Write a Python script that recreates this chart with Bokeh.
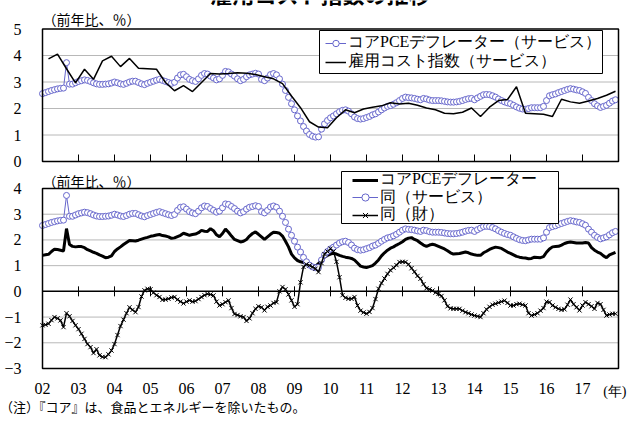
import numpy as np
from bokeh.plotting import figure
from bokeh.layouts import column
from bokeh.models import Range1d, FixedTicker, Legend, LegendItem, Label, BoxAnnotation, Div
from bokeh.core.properties import value
from bokeh.embed import file_html
from bokeh.resources import INLINE

# ---------------- data (monthly from Jan 2002, % y/y) ----------------
pce_services = [
    2.56, 2.60, 2.64, 2.68, 2.71, 2.74, 2.76, 2.77, 3.73, 2.92, 2.92, 2.97,
    3.02, 3.05, 3.08, 3.06, 3.02, 2.97, 2.93, 2.91, 2.91, 2.92, 2.93, 2.96,
    3.00, 2.97, 2.93, 2.91, 2.95, 3.00, 3.03, 3.03, 2.98, 2.93, 2.90, 2.95,
    2.99, 3.03, 3.07, 3.10, 3.06, 3.02, 2.98, 2.95, 2.99, 3.15, 3.27, 3.29,
    3.20, 3.10, 3.05, 3.02, 3.12, 3.25, 3.32, 3.30, 3.22, 3.15, 3.08, 3.12,
    3.25, 3.40, 3.38, 3.30, 3.22, 3.12, 3.05, 3.10, 3.20, 3.27, 3.30, 3.33,
    3.30, 3.10, 3.05, 3.15, 3.28, 3.32, 3.27, 3.12, 2.92, 2.68, 2.42, 2.18,
    1.95, 1.72, 1.53, 1.32, 1.15, 1.02, 0.95, 0.92, 0.93, 1.22, 1.42, 1.55,
    1.65, 1.72, 1.80, 1.88, 1.93, 1.95, 1.90, 1.80, 1.68, 1.62, 1.60, 1.62,
    1.66, 1.70, 1.76, 1.80, 1.87, 1.95, 2.02, 2.08, 2.11, 2.16, 2.22, 2.30,
    2.38, 2.43, 2.41, 2.40, 2.38, 2.35, 2.33, 2.38, 2.36, 2.32, 2.30, 2.30,
    2.30, 2.29, 2.27, 2.25, 2.24, 2.24, 2.25, 2.27, 2.30, 2.34, 2.37, 2.38,
    2.33, 2.40, 2.46, 2.52, 2.53, 2.52, 2.48, 2.43, 2.36, 2.30, 2.25, 2.21,
    2.18, 2.12, 2.06, 2.01, 1.98, 1.97, 2.00, 2.03, 2.03, 2.03, 2.03, 2.08,
    2.30, 2.48, 2.52, 2.55, 2.60, 2.64, 2.68, 2.72, 2.75, 2.73, 2.70, 2.68,
    2.63, 2.57, 2.42, 2.30, 2.18, 2.10, 2.04, 2.08, 2.12, 2.20, 2.28, 2.33,
]

pce_core = [
    1.40, 1.42, 1.44, 1.55, 1.64, 1.63, 1.60, 1.57, 2.44, 1.82, 1.75, 1.73,
    1.74, 1.74, 1.70, 1.62, 1.57, 1.52, 1.48, 1.42, 1.37, 1.31, 1.33, 1.38,
    1.55, 1.65, 1.73, 1.82, 1.90, 1.98, 1.97, 1.96, 1.99, 2.03, 2.07, 2.10,
    2.14, 2.16, 2.19, 2.21, 2.17, 2.15, 2.12, 2.06, 2.08, 2.13, 2.18, 2.26,
    2.22, 2.18, 2.21, 2.23, 2.28, 2.37, 2.34, 2.33, 2.44, 2.36, 2.20, 2.12,
    2.25, 2.42, 2.30, 2.15, 2.02, 1.97, 1.92, 1.95, 2.02, 2.15, 2.25, 2.31,
    2.22, 2.12, 2.02, 2.12, 2.22, 2.30, 2.29, 2.26, 2.15, 1.95, 1.73, 1.45,
    1.30, 1.20, 1.15, 1.12, 1.08, 1.02, 0.98, 0.98, 1.08, 1.22, 1.33, 1.40,
    1.45, 1.48, 1.45, 1.40, 1.36, 1.33, 1.31, 1.28, 1.22, 1.10, 0.98, 0.95,
    0.93, 0.96, 1.00, 1.10, 1.22, 1.38, 1.50, 1.60, 1.68, 1.73, 1.80, 1.86,
    1.93, 2.02, 2.07, 2.09, 2.02, 1.97, 1.88, 1.80, 1.75, 1.80, 1.83, 1.80,
    1.75, 1.70, 1.65, 1.58, 1.50, 1.45, 1.46, 1.47, 1.50, 1.53, 1.50, 1.45,
    1.42, 1.40, 1.40, 1.50, 1.56, 1.63, 1.68, 1.72, 1.70, 1.67, 1.60, 1.53,
    1.48, 1.42, 1.36, 1.33, 1.31, 1.30, 1.27, 1.28, 1.33, 1.32, 1.31, 1.35,
    1.52, 1.65, 1.73, 1.74, 1.75, 1.80, 1.86, 1.90, 1.92, 1.90, 1.88, 1.88,
    1.88, 1.90, 1.88, 1.70, 1.60, 1.53, 1.48, 1.38, 1.31, 1.42, 1.47, 1.52,
]

pce_goods = [
    -1.32, -1.30, -1.26, -1.12, -1.00, -1.05, -1.13, -1.39, -0.85, -0.97, -1.15, -1.32,
    -1.47, -1.65, -1.85, -2.05, -2.17, -2.40, -2.25, -2.49, -2.55, -2.56, -2.45, -2.30,
    -2.05, -1.70, -1.35, -1.10, -0.85, -0.62, -0.72, -0.81, -0.61, -0.20, 0.04, 0.10,
    0.08, -0.05, -0.15, -0.22, -0.33, -0.32, -0.29, -0.24, -0.22, -0.32, -0.40, -0.47,
    -0.40, -0.35, -0.40, -0.38, -0.30, -0.22, -0.15, -0.10, -0.12, -0.16, -0.40, -0.55,
    -0.50, -0.42, -0.35, -0.65, -0.88, -0.92, -0.97, -1.00, -1.15, -1.05, -0.85, -0.68,
    -0.58, -0.62, -0.74, -0.60, -0.55, -0.45, -0.42, 0.00, 0.17, 0.08, -0.12, -0.35,
    -0.60, -0.50, 0.35, 0.95, 1.05, 1.01, 0.95, 0.88, 0.75, 1.10, 1.45, 1.55,
    1.66, 1.55, 1.15, 0.55, -0.15, -0.25, -0.29, -0.29, -0.22, -0.55, -0.75, -0.82,
    -0.87, -0.80, -0.65, -0.30, 0.10, 0.32, 0.50, 0.68, 0.82, 0.92, 1.02, 1.14,
    1.15, 1.14, 1.05, 0.90, 0.76, 0.60, 0.49, 0.28, 0.12, 0.08, 0.03, -0.05,
    -0.10, -0.18, -0.35, -0.58, -0.66, -0.68, -0.68, -0.68, -0.75, -0.81, -0.85, -0.90,
    -0.94, -0.97, -1.00, -0.85, -0.70, -0.60, -0.52, -0.48, -0.44, -0.40, -0.36, -0.45,
    -0.55, -0.55, -0.50, -0.48, -0.52, -0.55, -0.85, -0.94, -0.90, -0.85, -0.75, -0.65,
    -0.40, -0.42, -0.55, -0.62, -0.68, -0.72, -0.70, -0.52, -0.32, -0.50, -0.62, -0.74,
    -0.55, -0.42, -0.50, -0.58, -0.68, -0.45, -0.50, -0.72, -0.94, -0.90, -0.87, -0.87,
]

# employment cost index (services), quarterly, quarter-end months from Mar 2002
eci_services = [
    3.87, 4.05, 3.50, 2.97,
    3.48, 3.10, 3.80, 3.97,
    3.58, 3.89, 3.52, 3.50,
    3.48, 2.98, 2.67, 2.86,
    2.64, 2.98, 3.32, 3.30,
    3.32, 3.35, 3.33, 3.28,
    3.20, 3.12, 2.94, 2.47,
    2.03, 1.50, 1.30, 1.27,
    1.65, 1.95, 1.84, 1.98,
    2.05, 2.10, 2.22, 2.17,
    2.20, 2.12, 2.02, 1.95,
    1.82, 1.80, 1.86, 2.02,
    1.70, 2.05, 2.30, 2.34,
    2.82, 1.82, 1.80, 1.78,
    1.70, 2.35, 2.25, 2.20,
    2.28, 2.38, 2.50, 2.65,
]

year_ticks = list(range(2002, 2018))
tick_labels = ["02", "03", "04", "05", "06", "07", "08", "09",
               "10", "11", "12", "13", "14", "15", "16", "17"]
top_yticks = [0, 1, 2, 3, 4, 5]
top_grid = [1, 2, 3, 4]
bot_yticks = [-3, -2, -1, 0, 1, 2, 3, 4]
bot_grid = [-2, -1, 1, 2, 3]

label_services_top = "コアPCEデフレーター（サービス）"
label_eci = "雇用コスト指数（サービス）"
label_core = "コアPCEデフレーター"
label_services = "同（サービス）"
label_goods = "同（財）"
title_text = "雇用コスト指数の推移"
unit_text = "（前年比、％）"
year_unit = "(年)"
note_text = "（注）『コア』は、食品とエネルギーを除いたもの。"

# month positions as decimal years
yr = 2002 + np.arange(len(pce_services)) / 12.0
eci_yr = 2002 + (2 + 3 * np.arange(len(eci_services))) / 12.0

BLUE = "#6666CC"
SERIF = "Liberation Serif"
JP = "Noto Sans CJK JP"
GRID = "#707070"
PX = 36.0            # pixels per year
X0, X1 = 2002, 2018  # plotted box (canvas x 42 .. 618)
FRAME_L = 30
XR = Range1d(X0 - (42 - FRAME_L) / PX, X1 + 10 / PX)   # frame 30 .. 628 px

U_T = 26.5           # top panel px per unit, 0 at canvas y 161
U_B = 180 / 7.0      # bottom panel px per unit, 4 at canvas y 188
TOP_H = 170
BOT_OFF = 170
BOT_H = 230          # canvas y 170 .. 400
FOOT_H = 423 - BOT_OFF - BOT_H


def px_x(X):
    return X0 + (X - 42) / PX


def top_y(Y):
    return (161 - Y) / U_T


def bot_y(Y):
    return 4 - (Y - 188) / U_B


def base(height, y_range):
    p = figure(width=628, height=height, x_range=XR, y_range=y_range,
               output_backend="svg", toolbar_location=None,
               x_axis_location=None, y_axis_location="left",
               min_border_left=FRAME_L, min_border_right=0, min_border_top=0, min_border_bottom=0)
    p.background_fill_color = "white"
    p.border_fill_color = "white"
    p.outline_line_color = None
    p.xgrid.visible = False
    p.ygrid.visible = False
    ax = p.yaxis[0]
    ax.axis_line_color = None
    ax.major_tick_line_color = None
    ax.minor_tick_line_color = None
    ax.major_tick_out = 0
    ax.major_tick_in = 0
    ax.major_label_standoff = 9
    ax.major_label_text_font = SERIF
    ax.major_label_text_font_size = "16px"
    ax.major_label_text_color = "black"
    return p


def legend_row(item, x_px, center_px, frame_bottom_px, gw, gh=24):
    leg = Legend(items=[item], location=(x_px - FRAME_L, frame_bottom_px - center_px - 12))
    leg.border_line_color = None
    leg.background_fill_alpha = 0
    leg.label_text_font = SERIF
    leg.label_text_font_size = "16px"
    leg.label_text_color = "black"
    leg.label_height = 24
    leg.glyph_height = gh
    leg.glyph_width = gw
    leg.label_standoff = 2
    leg.padding = 0
    leg.spacing = 0
    leg.margin = 0
    return leg


# ---------------- top panel (canvas y 0..170) ----------------
top = base(TOP_H, Range1d(top_y(TOP_H), top_y(0)))
top.yaxis[0].ticker = FixedTicker(ticks=top_yticks)

top.segment(x0=X0, x1=X1, y0=top_grid, y1=top_grid, line_color=GRID, line_width=1, line_dash="1 1")
top.segment(x0=year_ticks[1:], y0=0, x1=year_ticks[1:], y1=7 / U_T, line_color="black", line_width=1)

l_svc_t = top.line(yr, pce_services, line_color=BLUE, line_width=1)
s_svc_t = top.scatter(yr, pce_services, marker="circle", size=6, line_color=BLUE,
                      fill_color="white", line_width=1)
l_eci = top.line(eci_yr, eci_services, line_color="black", line_width=1.5)

top.add_layout(BoxAnnotation(left=X0, right=X1, bottom=0, top=5, fill_alpha=0,
                             line_color="black", line_width=1.5, line_alpha=1))
# legend frame
top.add_layout(BoxAnnotation(left=px_x(319), right=px_x(602), top=top_y(30), bottom=top_y(73),
                             fill_color="white", fill_alpha=1, line_color="black",
                             line_width=1, line_alpha=1))
top.add_layout(legend_row(LegendItem(label=label_services_top, renderers=[l_svc_t, s_svc_t]),
                          325, 42.5, TOP_H, 21, 16))
top.add_layout(legend_row(LegendItem(label=label_eci, renderers=[l_eci]),
                          325, 61.5, TOP_H, 21, 16))

top.add_layout(Label(x=2009.72, y=top_y(8.5), text=title_text, text_align="center",
                     text_baseline="bottom", text_font=JP, text_font_size="22px",
                     text_font_style="bold", text_color="black"))
top.add_layout(Label(x=X0, y=top_y(18), text=unit_text, text_align="left",
                     text_baseline="middle", text_font=JP, text_font_size="14px",
                     text_color="black"))

# ---------------- bottom panel (canvas y 170..400) ----------------
FB = BOT_OFF + BOT_H
bot = base(BOT_H, Range1d(bot_y(FB), bot_y(BOT_OFF)))
bot.yaxis[0].ticker = FixedTicker(ticks=bot_yticks)

bot.segment(x0=X0, x1=X1, y0=bot_grid, y1=bot_grid, line_color=GRID, line_width=1, line_dash="1 1")
bot.segment(x0=X0, x1=X1, y0=0, y1=0, line_color="black", line_width=1.5)
bot.segment(x0=year_ticks[1:], y0=-5 / U_B, x1=year_ticks[1:], y1=5 / U_B,
            line_color="black", line_width=1)

l_core = bot.line(yr, pce_core, line_color="black", line_width=3)
l_svc = bot.line(yr, pce_services, line_color=BLUE, line_width=1)
s_svc = bot.scatter(yr, pce_services, marker="circle", size=6, line_color=BLUE,
                    fill_color="white", line_width=1)
l_goods = bot.line(yr, pce_goods, line_color="black", line_width=1.5)
s_goods = bot.scatter(yr, pce_goods, marker="x", size=6, line_color="black", line_width=1)

bot.text(x=year_ticks, y=bot_y(388), text=tick_labels, text_font=value(SERIF),
         text_font_size="16px", text_align="center", text_baseline="middle",
         text_color="black")

bot.add_layout(BoxAnnotation(left=X0, right=X1, bottom=-3, top=4, fill_alpha=0,
                             line_color="black", line_width=1.5, line_alpha=1))
bot.add_layout(BoxAnnotation(left=px_x(341), right=px_x(558), top=bot_y(171), bottom=bot_y(223),
                             fill_color="white", fill_alpha=1, line_color="black",
                             line_width=1, line_alpha=1))
bot.add_layout(legend_row(LegendItem(label=label_core, renderers=[l_core]), 352, 179.5, FB, 26))
bot.add_layout(legend_row(LegendItem(label=label_services, renderers=[l_svc, s_svc]), 352, 197, FB, 26, 18))
bot.add_layout(legend_row(LegendItem(label=label_goods, renderers=[l_goods, s_goods]), 352, 214.5, FB, 26, 18))

bot.add_layout(Label(x=X0, y=bot_y(180.5), text=unit_text, text_align="left",
                     text_baseline="middle", text_font=JP, text_font_size="14px",
                     text_color="black"))
bot.add_layout(Label(x=px_x(626), y=bot_y(391), text=year_unit, text_align="right",
                     text_baseline="middle", text_font=SERIF, text_font_size="14px",
                     text_color="black"))

# ---------------- footnote (canvas y 400..423) ----------------
foot = Div(text=note_text, width=628, height=FOOT_H, margin=0,
           styles={"font-family": "Noto Sans CJK JP", "font-size": "13px",
                   "line-height": "13px", "white-space": "nowrap", "color": "black",
                   "padding": "0px", "margin": "0px"})

layout = column(top, bot, foot, spacing=0)

with open("out.html", "w") as f:
    f.write(file_html(layout, INLINE))
